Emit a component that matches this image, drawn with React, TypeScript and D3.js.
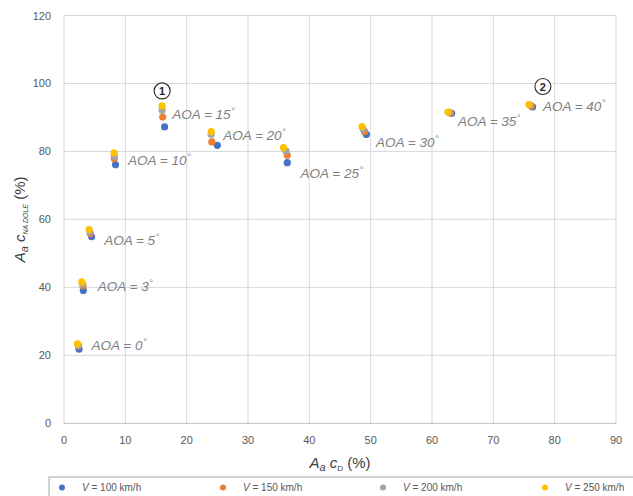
import React from "react";
import * as d3 from "d3";

// angle of attack for each point group
const aoa = [0, 3, 5, 10, 15, 20, 25, 30, 35, 40];

// A_a c_D (%) and A_a c_NA DOLE (%) per speed
const v100x = [2.45, 3.15, 4.5, 8.4, 16.4, 25.0, 36.4, 49.3, 63.2, 76.4];
const v100y = [21.8, 39.1, 54.9, 76.1, 87.2, 81.8, 76.7, 85.0, 91.2, 93.1];
const v150x = [2.35, 3.1, 4.3, 8.2, 16.1, 24.1, 36.4, 49.0, 63.0, 76.2];
const v150y = [22.8, 40.5, 55.8, 77.9, 90.1, 82.8, 78.9, 85.8, 91.3, 93.3];
const v200x = [2.3, 3.0, 4.2, 8.2, 16.0, 24.0, 36.2, 48.8, 62.8, 76.0];
const v200y = [23.0, 41.0, 56.3, 78.6, 92.1, 85.0, 80.1, 86.5, 91.5, 93.6];
const v250x = [2.2, 2.9, 4.1, 8.15, 16.0, 24.0, 35.8, 48.6, 62.6, 75.8];
const v250y = [23.4, 41.6, 57.0, 79.6, 93.4, 85.8, 81.1, 87.3, 91.6, 93.8];

const seriesNames = ["100", "150", "200", "250"];
const seriesColors = ["#4472C4", "#ED7D31", "#A5A5A5", "#FFC000"];

const xTicks = [0, 10, 20, 30, 40, 50, 60, 70, 80, 90];
const yTicks = [0, 20, 40, 60, 80, 100, 120];

// circled markers: index into aoa
const callouts = [
  { label: "1", idx: 4, dx: 0, dy: -15 },
  { label: "2", idx: 9, dx: 14, dy: -18 },
];

// label offsets (px) from the 250 km/h point
const labelDx = [14, 16, 15, 14, 10, 12, 17, 14, 10, 14];
const labelDy = [6, 9, 15, 12, 13, 8, 30, 20, 14, 6];

const W = 633;
const H = 496;
const FONT = "'Liberation Sans', Arial, sans-serif";

export default function App() {
  const x = d3.scaleLinear().domain([0, 90]).range([64, 616]);
  const y = d3.scaleLinear().domain([0, 120]).range([423.3, 15.5]);

  const series = [
    { xs: v100x, ys: v100y },
    { xs: v150x, ys: v150y },
    { xs: v200x, ys: v200y },
    { xs: v250x, ys: v250y },
  ];

  const legendX = [62, 223, 383, 545];

  return (
    <svg
      width={W}
      height={H}
      style={{ position: "absolute", left: 0, top: 0, background: "#fff" }}
      fontFamily={FONT}
    >
      {/* grid */}
      {xTicks.map((t) => (
        <line key={"gx" + t} x1={x(t)} x2={x(t)} y1={y(120)} y2={y(0)} stroke="#d9d9d9" />
      ))}
      {yTicks.map((t) => (
        <line
          key={"gy" + t}
          x1={x(0)}
          x2={x(90)}
          y1={y(t)}
          y2={y(t)}
          stroke={t === 0 ? "#bfbfbf" : "#d9d9d9"}
        />
      ))}

      {/* tick labels */}
      {yTicks.map((t) => (
        <text key={"ty" + t} x={51} y={y(t) + 4} textAnchor="end" fontSize={11} fill="#595959">
          {t}
        </text>
      ))}
      {xTicks.map((t) => (
        <text key={"tx" + t} x={x(t)} y={444} textAnchor="middle" fontSize={11} fill="#595959">
          {t}
        </text>
      ))}

      {/* AOA labels */}
      {aoa.map((a, i) => (
        <text
          key={"aoa" + a}
          x={x(v250x[i]) + labelDx[i]}
          y={y(v250y[i]) + labelDy[i]}
          fontSize={13.5}
          fontStyle="italic"
          fill="#808080"
        >
          {`AOA = ${a}`}
          <tspan fontSize={9} dx={0.5} dy={-5}>
            °
          </tspan>
        </text>
      ))}

      {/* points */}
      {series.map((s, si) =>
        s.xs.map((xv, i) => (
          <circle
            key={`p${si}-${i}`}
            cx={x(xv)}
            cy={y(s.ys[i])}
            r={3.6}
            fill={seriesColors[si]}
          />
        ))
      )}

      {/* circled numbers */}
      {callouts.map((c) => {
        const cx = x(v250x[c.idx]) + c.dx;
        const cy = y(v250y[c.idx]) + c.dy;
        return (
          <g key={"c" + c.label}>
            <circle cx={cx} cy={cy} r={8} fill="#fff" stroke="#262626" strokeWidth={1.1} />
            <text x={cx} y={cy + 4} textAnchor="middle" fontSize={11} fontWeight="bold" fill="#262626">
              {c.label}
            </text>
          </g>
        );
      })}

      {/* axis titles */}
      <text x={340} y={468} textAnchor="middle" fontSize={15} fill="#404040">
        <tspan fontStyle="italic">A</tspan>
        <tspan fontStyle="italic" fontSize={11} dy={3}>
          a
        </tspan>
        <tspan fontStyle="italic" dy={-3}>
          {" c"}
        </tspan>
        <tspan fontSize={8} dy={3}>
          D
        </tspan>
        <tspan dy={-3}>{" (%)"}</tspan>
      </text>
      <g transform={`translate(25,${(y(0) + y(120)) / 2}) rotate(-90)`}>
        <text x={0} y={0} textAnchor="middle" fontSize={15} fill="#404040">
          <tspan fontStyle="italic">A</tspan>
          <tspan fontStyle="italic" fontSize={11} dy={3}>
            a
          </tspan>
          <tspan fontStyle="italic" dy={-3}>
            {" c"}
          </tspan>
          <tspan fontStyle="italic" fontSize={7} dy={3}>
            NA DOLE
          </tspan>
          <tspan dy={-3}>{" (%)"}</tspan>
        </text>
      </g>

      {/* legend */}
      <rect x={49} y={477} width={600} height={30} fill="none" stroke="#a6a6a6" />
      {seriesNames.map((n, i) => (
        <g key={"lg" + n}>
          <circle cx={legendX[i]} cy={487.5} r={3} fill={seriesColors[i]} />
          <text x={legendX[i] + 20} y={491} fontSize={10} fill="#595959">
            <tspan fontStyle="italic">V</tspan>
            {` = ${n} km/h`}
          </text>
        </g>
      ))}
    </svg>
  );
}
